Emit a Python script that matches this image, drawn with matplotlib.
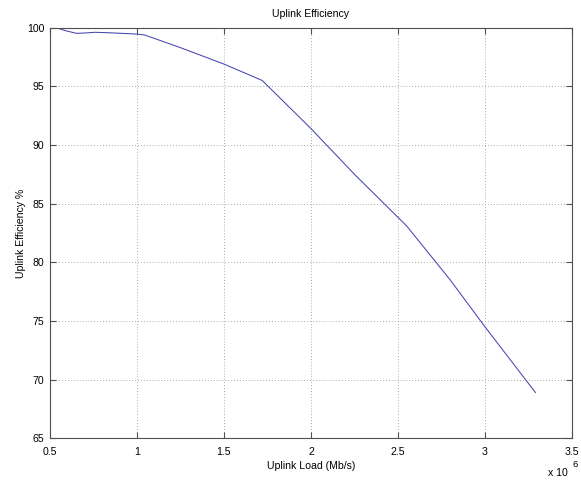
import matplotlib
matplotlib.use("Agg")
import matplotlib.pyplot as plt
from matplotlib.ticker import FuncFormatter

# Data (x in units of 10^6 Mb/s)
load_x = [0.513, 0.545, 0.596, 0.653, 0.70, 0.758, 0.84, 0.911, 0.997, 1.044,
          1.25, 1.5, 1.72, 2.0, 2.25, 2.55, 2.80, 3.0, 3.29]
efficiency = [100.0, 99.95, 99.72, 99.52, 99.55, 99.61, 99.57, 99.52, 99.46, 99.38,
              98.3, 96.9, 95.5, 91.4, 87.5, 83.1, 78.5, 74.5, 68.9]
x_scale = 1e6
xticks = [0.5, 1.0, 1.5, 2.0, 2.5, 3.0, 3.5]
yticks = [65, 70, 75, 80, 85, 90, 95, 100]

FS = 7.6
plt.rcParams['font.family'] = ['Liberation Sans', 'DejaVu Sans']
plt.rcParams['font.size'] = FS

fig = plt.figure(figsize=(5.81, 4.82), dpi=100)
ax = fig.add_axes([0.086, 0.0907, 0.8985, 0.8518])

xs = [v * x_scale for v in load_x]
ax.plot(xs, efficiency, color='#4646b0', lw=0.75)

ax.set_xlim(xticks[0] * x_scale, xticks[-1] * x_scale)
ax.set_ylim(yticks[0], yticks[-1])
ax.set_xticks([t * x_scale for t in xticks])
ax.set_yticks(yticks)
ax.xaxis.set_major_formatter(FuncFormatter(lambda v, p: ('%g' % (v / x_scale))))

ax.grid(True, linestyle=(0, (1, 2.5)), color='#909090', linewidth=0.6)
for s in ax.spines.values():
    s.set_color('#505050')
    s.set_linewidth(0.8)
ax.tick_params(direction='in', length=4.5, width=0.8, color='#505050',
               top=True, right=True, labelcolor='black', labelsize=FS)
ax.tick_params(axis='x', pad=6)
ax.tick_params(axis='y', pad=4)

ax.set_title('Uplink Efficiency', fontsize=FS, pad=8)
ax.set_xlabel('Uplink Load (Mb/s)', fontsize=FS, labelpad=3)
ax.set_ylabel('Uplink Efficiency %', fontsize=FS, labelpad=1)

fig.text(0.9435, 0.019, 'x 10', fontsize=FS, ha='left', va='center')
fig.text(0.986, 0.037, '6', fontsize=6.8, ha='left', va='center')

fig.savefig('out.png', dpi=100)
